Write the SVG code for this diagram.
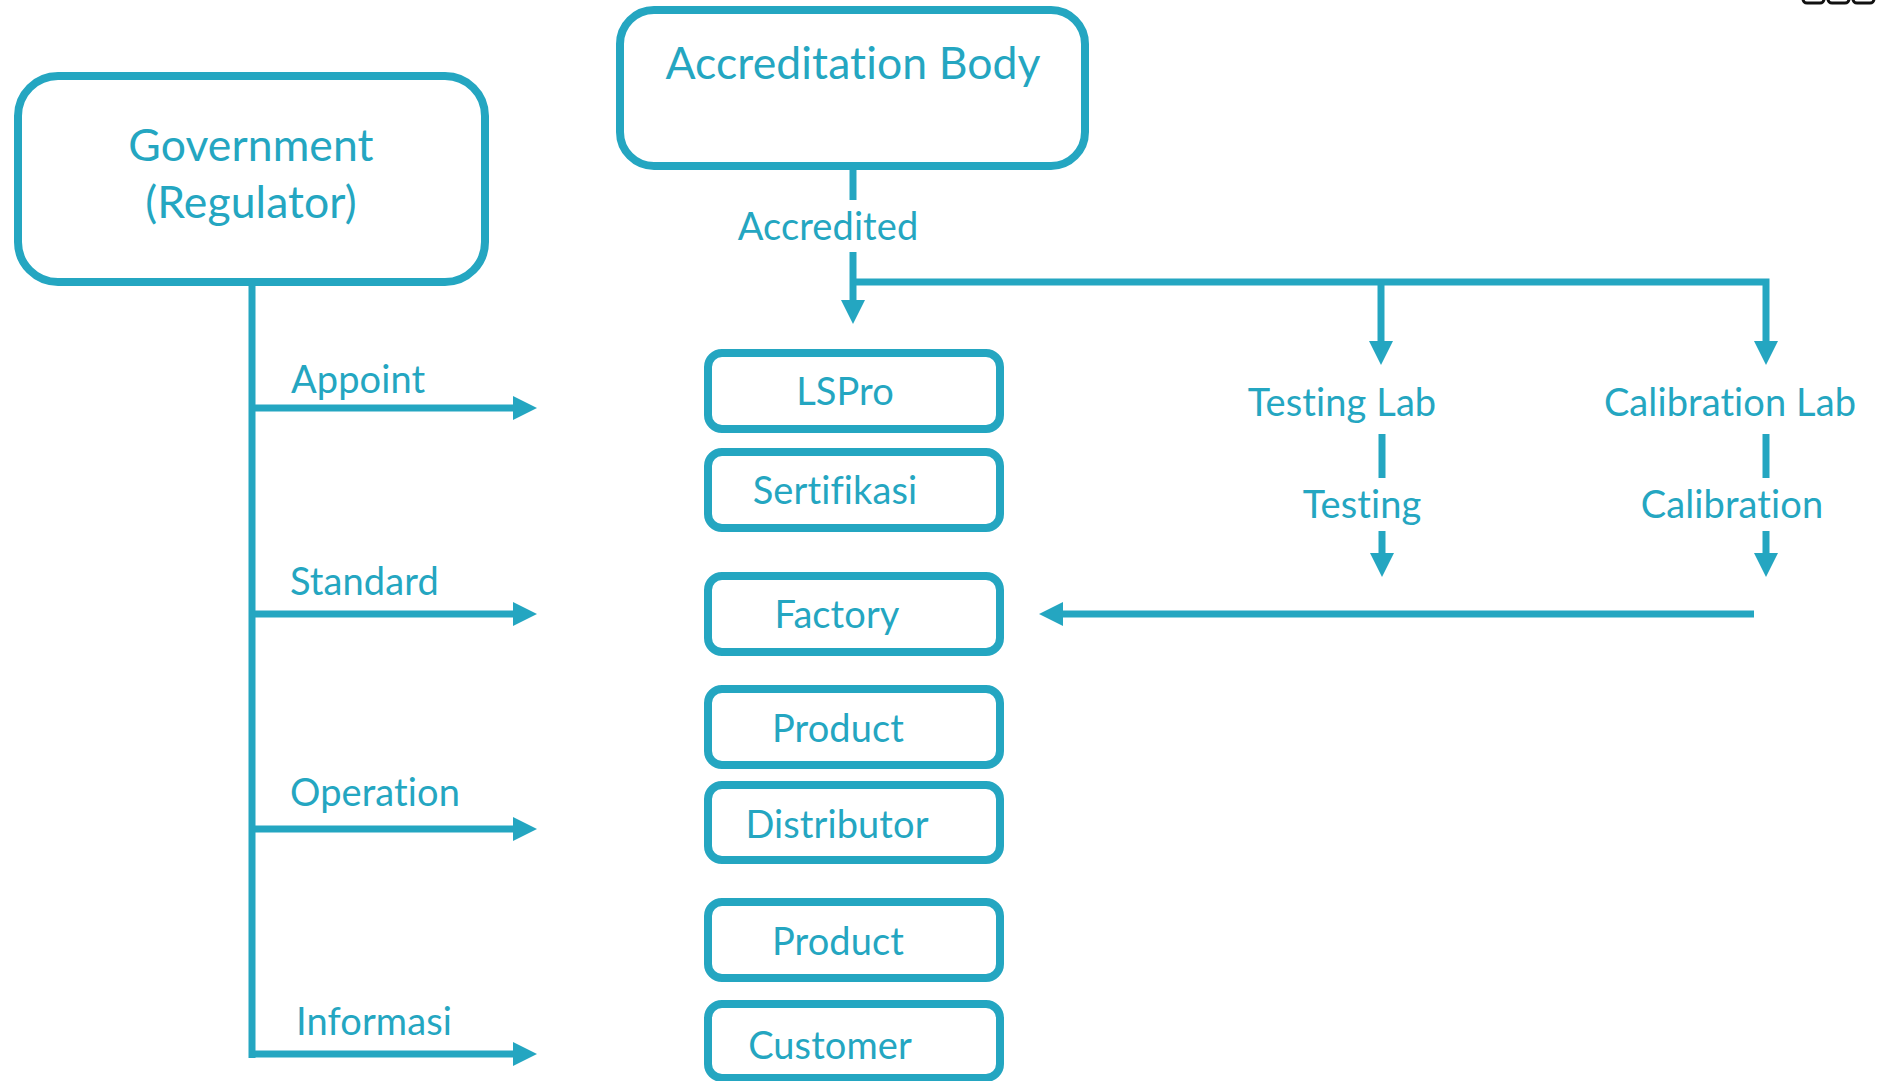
<svg xmlns="http://www.w3.org/2000/svg" width="1877" height="1081" viewBox="0 0 1877 1081">
<defs>
<style>
.box{fill:#fff;stroke:#24A6C1;stroke-width:8}
.ln{fill:none;stroke:#24A6C1;stroke-width:7;stroke-linejoin:miter}
.t{font-family:Lato,"Open Sans","Liberation Sans",sans-serif;fill:#24A6C1;font-variant-ligatures:none;font-feature-settings:"liga" 0,"clig" 0,"dlig" 0;letter-spacing:0.1px}
.big{font-size:44.5px;text-anchor:middle}
.lbl{font-size:38px}
.mid{text-anchor:middle}
.blk{fill:none;stroke:#111;stroke-width:3}
</style>
<marker id="ah" markerUnits="userSpaceOnUse" markerWidth="24" markerHeight="24" refX="0" refY="12" orient="auto" viewBox="0 0 24 24">
<path d="M0,0 L24,12 L0,24 Z" fill="#24A6C1"/>
</marker>
</defs>
<rect width="1877" height="1081" fill="#fff"/>
<g id="corner-artifact">
<rect class="blk" x="1803" y="-20" width="21" height="23" rx="4"/>
<rect class="blk" x="1828" y="-20" width="21" height="23" rx="4"/>
<rect class="blk" x="1853" y="-20" width="21" height="23" rx="4"/>
</g>
<g id="connectors">
<path class="ln" d="M853,166 V200"/>
<path class="ln" d="M853,252 V300" marker-end="url(#ah)"/>
<path class="ln" d="M853,282 H1766 V341" marker-end="url(#ah)"/>
<path class="ln" d="M1381,282 V341" marker-end="url(#ah)"/>
<path class="ln" d="M1382,434 V478"/>
<path class="ln" d="M1766,434 V478"/>
<path class="ln" d="M1382,531 V553" marker-end="url(#ah)"/>
<path class="ln" d="M1766,531 V553" marker-end="url(#ah)"/>
<path class="ln" d="M1754,614 H1063" marker-end="url(#ah)"/>
<path class="ln" d="M252,282 V1058"/>
<path class="ln" d="M252,408 H513" marker-end="url(#ah)"/>
<path class="ln" d="M252,614 H513" marker-end="url(#ah)"/>
<path class="ln" d="M252,829 H513" marker-end="url(#ah)"/>
<path class="ln" d="M252,1054 H513" marker-end="url(#ah)"/>
<text class="t lbl mid" x="828" y="240">Accredited</text>
<text class="t lbl" x="291" y="393">Appoint</text>
<text class="t lbl" x="290" y="595">Standard</text>
<text class="t lbl" x="290" y="806">Operation</text>
<text class="t lbl" x="296" y="1035">Informasi</text>
<text class="t lbl mid" x="1362" y="518">Testing</text>
<text class="t lbl mid" x="1732" y="518">Calibration</text>
</g>
<g id="government">
<rect class="box" x="18" y="76" width="467" height="206" rx="40"/>
<text class="t big" x="251" y="161">Government</text>
<text class="t big" x="251" y="218">(Regulator)</text>
</g>
<g id="accreditation-body">
<rect class="box" x="620" y="10" width="465" height="156" rx="34"/>
<text class="t big" x="853" y="79">Accreditation Body</text>
</g>
<g id="testing-lab">
<text class="t lbl mid" x="1342" y="416">Testing Lab</text>
</g>
<g id="calibration-lab">
<text class="t lbl mid" x="1730" y="416">Calibration Lab</text>
</g>
<g id="lspro">
<rect class="box" x="708" y="353" width="292" height="76" rx="14"/>
<text class="t lbl mid" x="845" y="405">LSPro</text>
</g>
<g id="sertifikasi">
<rect class="box" x="708" y="452" width="292" height="76" rx="14"/>
<text class="t lbl mid" x="835" y="504">Sertifikasi</text>
</g>
<g id="factory">
<rect class="box" x="708" y="576" width="292" height="76" rx="14"/>
<text class="t lbl mid" x="837" y="628">Factory</text>
</g>
<g id="product-1">
<rect class="box" x="708" y="689" width="292" height="76" rx="14"/>
<text class="t lbl mid" x="838" y="742">Product</text>
</g>
<g id="distributor">
<rect class="box" x="708" y="785" width="292" height="75" rx="14"/>
<text class="t lbl mid" x="837" y="838">Distributor</text>
</g>
<g id="product-2">
<rect class="box" x="708" y="902" width="292" height="76" rx="14"/>
<text class="t lbl mid" x="838" y="955">Product</text>
</g>
<g id="customer">
<rect class="box" x="708" y="1004" width="292" height="74" rx="14"/>
<text class="t lbl mid" x="830" y="1059">Customer</text>
</g>
</svg>
